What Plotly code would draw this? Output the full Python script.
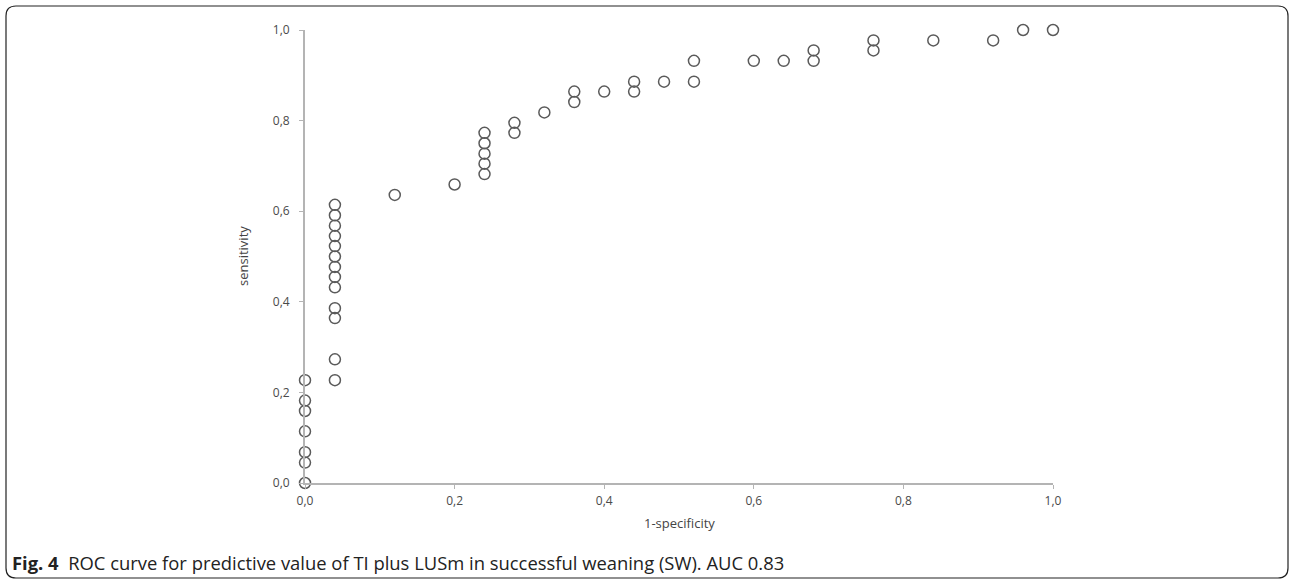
import plotly.graph_objects as go

# Data: (1 - specificity, sensitivity) points of ROC curve
fpr = [0, 0, 0, 0, 0, 0, 0,
       0.04, 0.04, 0.04, 0.04, 0.04, 0.04, 0.04, 0.04, 0.04, 0.04, 0.04, 0.04, 0.04,
       0.12, 0.20,
       0.24, 0.24, 0.24, 0.24, 0.24,
       0.28, 0.28, 0.32, 0.36, 0.36, 0.40, 0.44, 0.44, 0.48,
       0.52, 0.52, 0.60, 0.64, 0.68, 0.68, 0.76, 0.76, 0.84, 0.92, 0.96, 1.00]
tpr = [0.000, 0.045, 0.068, 0.114, 0.159, 0.182, 0.227,
       0.227, 0.273, 0.364, 0.386, 0.432, 0.455, 0.477, 0.500, 0.523, 0.545, 0.568, 0.591, 0.614,
       0.636, 0.659,
       0.682, 0.705, 0.727, 0.750, 0.773,
       0.773, 0.795, 0.818, 0.841, 0.864, 0.864, 0.864, 0.886, 0.886,
       0.886, 0.932, 0.932, 0.932, 0.932, 0.955, 0.955, 0.977, 0.977, 0.977, 1.000, 1.000]
tick_vals = [0.0, 0.2, 0.4, 0.6, 0.8, 1.0]
tick_text = ["0,0", "0,2", "0,4", "0,6", "0,8", "1,0"]
x_title = "1-specificity"
y_title = "sensitivity"
caption = "<b>Fig. 4</b>  ROC curve for predictive value of TI plus LUSm in successful weaning (SW). AUC 0.83"

W, H = 1290, 581
L, R, T, B = 305, 237, 30, 98
pw, ph = W - L - R, H - T - B

def px(x):
    return (x - L) / pw

def py(y):
    return (H - B - y) / ph

fig = go.Figure()
fig.add_trace(go.Scatter(
    x=fpr, y=tpr, mode="markers", cliponaxis=False,
    marker=dict(symbol="circle-open", size=11, color="#5a5a5a", line=dict(width=1.5, color="#5a5a5a")),
    hoverinfo="x+y", showlegend=False,
))

# rounded outer frame
x0, x1, y0, y1, r = 6, 1288, 6, 578, 10
path = (f"M {px(x0+r)},{py(y0)} L {px(x1-r)},{py(y0)} Q {px(x1)},{py(y0)} {px(x1)},{py(y0+r)} "
        f"L {px(x1)},{py(y1-r)} Q {px(x1)},{py(y1)} {px(x1-r)},{py(y1)} "
        f"L {px(x0+r)},{py(y1)} Q {px(x0)},{py(y1)} {px(x0)},{py(y1-r)} "
        f"L {px(x0)},{py(y0+r)} Q {px(x0)},{py(y0)} {px(x0+r)},{py(y0)} Z")
fig.add_shape(type="path", path=path, xref="paper", yref="paper",
              line=dict(color="#222222", width=1.2), layer="below")

fig.add_annotation(
    x=px(10), y=py(562), xref="paper", yref="paper", xanchor="left", yanchor="middle",
    text=caption, showarrow=False, font=dict(family="Open Sans", size=18.4, color="#222222"),
)
fig.add_annotation(
    x=px(679), y=py(523), xref="paper", yref="paper", xanchor="center", yanchor="middle",
    text=x_title, showarrow=False, font=dict(family="Open Sans", size=13, color="#444444"),
)
fig.add_annotation(
    x=px(243), y=py(256), xref="paper", yref="paper", xanchor="center", yanchor="middle",
    text=y_title, textangle=-90, showarrow=False, font=dict(family="Open Sans", size=13, color="#444444"),
)

axis_common = dict(
    range=[0, 1], tickvals=tick_vals, ticktext=tick_text,
    showline=True, linecolor="#b4b4b4", linewidth=2,
    ticks="outside", ticklen=4, tickcolor="#b4b4b4", tickwidth=1,
    showgrid=False, zeroline=False,
    tickfont=dict(family="Open Sans", size=12, color="#4a4a4a"),
)

fig.update_layout(
    width=W, height=H,
    margin=dict(l=L, r=R, t=T, b=B),
    paper_bgcolor="white", plot_bgcolor="white",
    xaxis=dict(axis_common, ticklabelstandoff=2),
    yaxis=dict(axis_common, ticklabelstandoff=7),
)

fig.write_html("out.html", config={"displayModeBar": False},
               post_script="document.body.style.margin='0px';")
